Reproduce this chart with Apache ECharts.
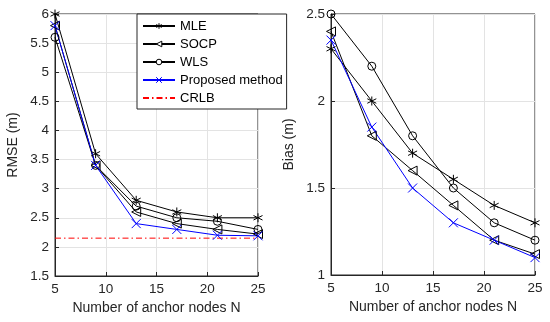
<!DOCTYPE html>
<html><head><meta charset="utf-8">
<script src="https://cdn.jsdelivr.net/npm/echarts@6/dist/echarts.min.js"></script>
<style>html,body{margin:0;padding:0;background:#fff}#c{width:550px;height:322px}</style>
</head><body><div id="c"></div>
<script>
const xVals = [5, 9, 13, 17, 21, 25];
const rmseMLE  = [6.0, 3.6, 2.8, 2.6, 2.5, 2.5];
const rmseSOCP = [5.8, 3.4, 2.6, 2.4, 2.3, 2.22];
const rmseWLS  = [5.6, 3.4, 2.7, 2.5, 2.44, 2.3];
const rmseProp = [5.8, 3.4, 2.4, 2.3, 2.2, 2.19];
const crlb = 2.15;
const biasMLE  = [2.3, 2.0, 1.7, 1.55, 1.4, 1.3];
const biasSOCP = [2.4, 1.8, 1.6, 1.4, 1.2, 1.12];
const biasWLS  = [2.5, 2.2, 1.8, 1.5, 1.3, 1.2];
const biasProp = [2.35, 1.85, 1.5, 1.3, 1.2, 1.1];
const names = ['MLE', 'SOCP', 'WLS', 'Proposed method', 'CRLB'];

const FONT = 'Liberation Sans, Arial, sans-serif';
const star = 'path://M0,-5L0,5M-4.5,-2.5L4.5,2.5M-4.5,2.5L4.5,-2.5M0,-5';
const cross = 'path://M-4,-4L4,4M-4,4L4,-4M-4,-4';
const pairs = v => xVals.map((x, i) => [x, v[i]]);

function mk(name, data, gi, symbol, color, rot) {
  return {
    name, type: 'line', xAxisIndex: gi, yAxisIndex: gi, data: pairs(data),
    symbol, symbolSize: symbol === 'circle' ? 8 : 9, symbolRotate: rot || 0,
    showSymbol: true,
    lineStyle: { color, width: 1 },
    itemStyle: { color: 'rgba(0,0,0,0)', borderColor: color, borderWidth: 1 },
    emphasis: { disabled: true }, animation: false, z: 3
  };
}
function xAx(gi) {
  return {
    type: 'value', gridIndex: gi, min: 5, max: 25, interval: 5,
    name: 'Number of anchor nodes N', nameLocation: 'middle', nameGap: 24,
    nameTextStyle: { fontFamily: FONT, fontSize: 14, color: '#262626' },
    axisLine: { lineStyle: { color: '#262626' } },
    axisTick: { inside: true, length: 4, lineStyle: { color: '#262626' } },
    axisLabel: { fontFamily: FONT, fontSize: 13.5, color: '#262626', margin: 6 },
    splitLine: { show: true, lineStyle: { color: '#e3e3e3' } }
  };
}
function yAx(gi, name, min, max, interval, gap) {
  return {
    type: 'value', gridIndex: gi, min, max, interval,
    name, nameLocation: 'middle', nameGap: gap,
    nameTextStyle: { fontFamily: FONT, fontSize: 14, color: '#262626' },
    axisLine: { show: true, lineStyle: { color: '#262626' } },
    axisTick: { show: true, inside: true, length: 4, lineStyle: { color: '#262626' } },
    axisLabel: { fontFamily: FONT, fontSize: 13.5, color: '#262626', margin: 6 },
    splitLine: { show: true, lineStyle: { color: '#e3e3e3' } }
  };
}
const legItem = (name, c) => ({ name, itemStyle: { color: '#fff', borderColor: c, borderWidth: 1 } });

const chart = echarts.init(document.getElementById('c'), null, { renderer: 'canvas' });
chart.setOption({
  backgroundColor: '#fff',
  animation: false,
  grid: [
    { left: 55, top: 14, width: 203, height: 262, show: true, borderColor: '#262626', borderWidth: 1, backgroundColor: 'transparent' },
    { left: 331, top: 14, width: 204, height: 261, show: true, borderColor: '#262626', borderWidth: 1, backgroundColor: 'transparent' }
  ],
  legend: {
    left: 137, top: 14, orient: 'vertical',
    data: [
      legItem('MLE', '#000'), legItem('SOCP', '#000'), legItem('WLS', '#000'),
      legItem('Proposed method', '#0000ff'),
      { name: 'CRLB', itemStyle: { opacity: 0 } }
    ],
    itemWidth: 32, itemHeight: 7, itemGap: 4,
    padding: [5, 4, 4, 5],
    backgroundColor: '#fff', borderColor: '#262626', borderWidth: 1, borderRadius: 0,
    textStyle: { fontFamily: FONT, fontSize: 13, lineHeight: 14, color: '#000' },
    selectedMode: false, z: 10
  },
  xAxis: [xAx(0), xAx(1)],
  yAxis: [yAx(0, 'RMSE (m)', 1.5, 6, 0.5, 35), yAx(1, 'Bias (m)', 1, 2.5, 0.5, 35)],
  series: [
    mk('MLE', rmseMLE, 0, star, '#000'),
    mk('SOCP', rmseSOCP, 0, 'triangle', '#000', 90),
    mk('WLS', rmseWLS, 0, 'circle', '#000'),
    mk('Proposed method', rmseProp, 0, cross, '#0000ff'),
    {
      name: 'CRLB', type: 'line', xAxisIndex: 0, yAxisIndex: 0,
      data: [[5, crlb], [25, crlb]], symbol: 'none',
      lineStyle: { color: '#ff0000', width: 1, type: [6, 3, 1.5, 3] },
      itemStyle: { color: '#ff0000' }, emphasis: { disabled: true }, z: 2
    },
    mk('MLE', biasMLE, 1, star, '#000'),
    mk('SOCP', biasSOCP, 1, 'triangle', '#000', 90),
    mk('WLS', biasWLS, 1, 'circle', '#000'),
    mk('Proposed method', biasProp, 1, cross, '#0000ff')
  ]
});
</script></body></html>
